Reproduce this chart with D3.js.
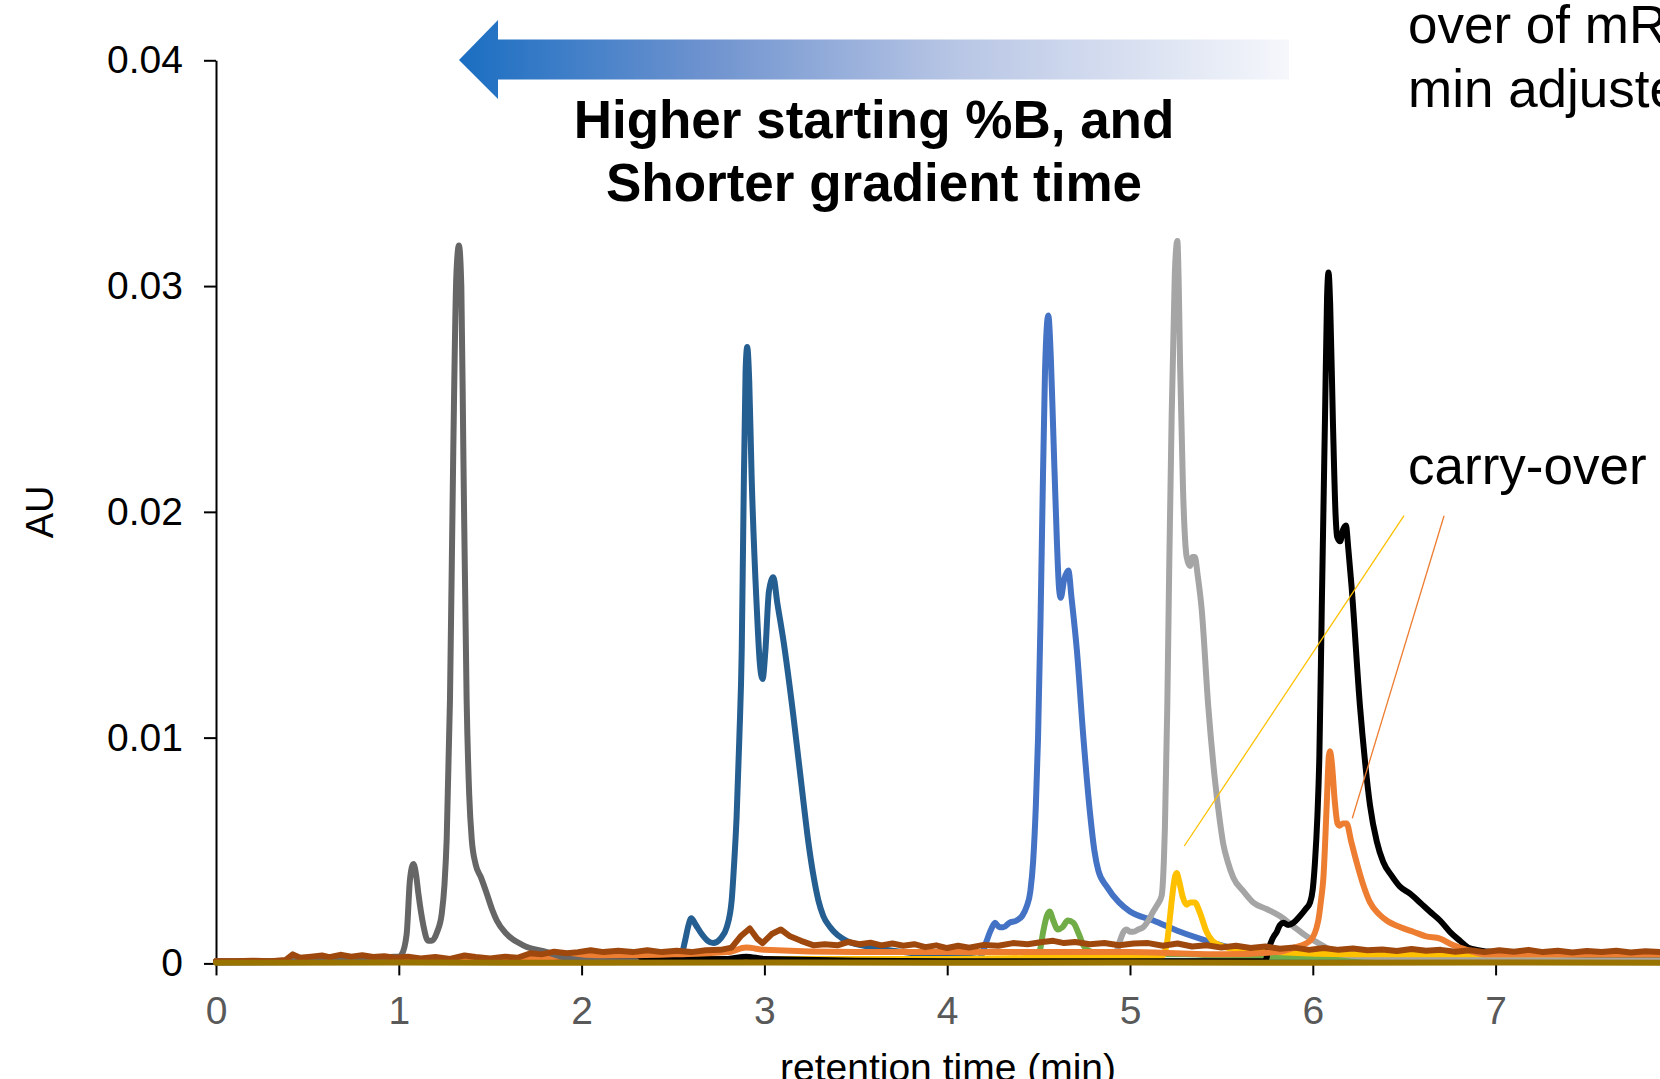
<!DOCTYPE html>
<html>
<head>
<meta charset="utf-8">
<script src="https://cdn.jsdelivr.net/npm/d3@7"></script>
<style>
  html, body { margin: 0; padding: 0; background: #fff; }
  svg { display: block; font-family: "Liberation Sans", Arial, sans-serif; }
</style>
</head>
<body>
<svg id="chart" width="1660" height="1079"></svg>
<script>
// ---- data: [retention time (min), absorbance (AU)] ----
const xTicks = [0, 1, 2, 3, 4, 5, 6, 7];
const yTicks = [0, 0.01, 0.02, 0.03, 0.04];

const darkGrayTrace = [[0,0.0001],[0.5,0.0001],[0.9,0.0002],[0.97,0.0003],[1.0,0.0003],[1.016,0.0004],[1.043,0.0013],[1.061,0.0037],[1.08,0.0044],[1.095,0.0039],[1.107,0.0031],[1.134,0.0017],[1.16,0.0010],[1.18,0.0010],[1.21,0.0014],[1.235,0.0022],[1.25,0.0035],[1.262,0.0055],[1.28,0.0117],[1.298,0.0227],[1.315,0.0305],[1.329,0.0318],[1.342,0.0300],[1.353,0.0227],[1.371,0.0117],[1.385,0.0075],[1.399,0.0055],[1.42,0.0044],[1.45,0.0038],[1.481,0.0031],[1.51,0.0024],[1.536,0.0019],[1.59,0.0013],[1.681,0.0008],[1.81,0.0005],[1.937,0.0002],[2.1,0.0001],[2.3,0.0001]];

const darkBlueTrace = [[0,0.0001],[1,0.0001],[2,0.0001],[2.5,0.0001],[2.538,0.0002],[2.566,0.0010],[2.585,0.0017],[2.60,0.0020],[2.625,0.0017],[2.657,0.0013],[2.69,0.0010],[2.72,0.0009],[2.76,0.0011],[2.794,0.0016],[2.821,0.0028],[2.835,0.0045],[2.848,0.0065],[2.863,0.0100],[2.876,0.0139],[2.885,0.0197],[2.897,0.0262],[2.906,0.0273],[2.917,0.0258],[2.93,0.0216],[2.958,0.0158],[2.975,0.0133],[2.99,0.0126],[3.005,0.0138],[3.025,0.0165],[3.049,0.0171],[3.07,0.0160],[3.104,0.0143],[3.158,0.0110],[3.213,0.0072],[3.24,0.0054],[3.268,0.0039],[3.295,0.0028],[3.322,0.0021],[3.36,0.0016],[3.45,0.0010],[3.6,0.0007],[3.81,0.00046],[4.09,0.00028],[4.3,0.0001],[5,0.0001],[6,0.0001],[7,0.0001],[8,0.0001]];

const blueTrace = [[0,0.00005],[2,0.0001],[4,0.0001],[4.17,0.0001],[4.19,0.0004],[4.216,0.0010],[4.24,0.0015],[4.262,0.0018],[4.285,0.0016],[4.307,0.0016],[4.34,0.0018],[4.38,0.0019],[4.41,0.0021],[4.434,0.0025],[4.455,0.0032],[4.47,0.0045],[4.485,0.0070],[4.497,0.0100],[4.51,0.0150],[4.52,0.0197],[4.535,0.0262],[4.553,0.0287],[4.567,0.0268],[4.58,0.0236],[4.6,0.0187],[4.612,0.0166],[4.621,0.0162],[4.64,0.0170],[4.663,0.0174],[4.68,0.0162],[4.709,0.0139],[4.745,0.0100],[4.782,0.0066],[4.805,0.0050],[4.827,0.0041],[4.873,0.0034],[4.94,0.0027],[5.0,0.0023],[5.128,0.0019],[5.274,0.0014],[5.42,0.0010],[5.547,0.0007],[5.69,0.00045],[6.0,0.0003],[6.5,0.0003],[7,0.0002],[8,0.0002]];

const greenTrace = [[0,0.0001],[2,0.0001],[3,0.0001],[4,0.0002],[4.4,0.0002],[4.49,0.0003],[4.508,0.0006],[4.525,0.0014],[4.545,0.0021],[4.56,0.0023],[4.58,0.0019],[4.605,0.0015],[4.63,0.0016],[4.66,0.0019],[4.69,0.0018],[4.72,0.0013],[4.745,0.0008],[4.766,0.0006],[4.8,0.0005],[5.0,0.0004],[5.3,0.0004],[5.6,0.0003],[6,0.0003],[6.5,0.0003],[7,0.0003],[7.5,0.0003],[8,0.0003]];

const lightGrayTrace = [[0,0.0001],[4,0.0001],[4.9,0.0001],[4.923,0.0004],[4.945,0.0010],[4.965,0.0014],[4.981,0.0015],[5.0,0.0014],[5.018,0.0014],[5.045,0.0015],[5.072,0.0016],[5.1,0.0019],[5.127,0.0023],[5.15,0.0026],[5.173,0.0030],[5.185,0.0045],[5.191,0.0060],[5.204,0.0114],[5.215,0.0178],[5.228,0.0243],[5.245,0.0305],[5.259,0.0320],[5.266,0.0303],[5.274,0.0265],[5.29,0.0210],[5.31,0.0180],[5.328,0.0176],[5.342,0.0180],[5.355,0.0180],[5.37,0.0172],[5.392,0.0157],[5.428,0.0114],[5.465,0.0081],[5.49,0.0064],[5.51,0.0053],[5.535,0.0045],[5.565,0.0038],[5.62,0.0032],[5.674,0.0027],[5.75,0.0024],[5.82,0.0021],[5.9,0.0016],[5.966,0.0012],[6.03,0.0009],[6.094,0.0006],[6.15,0.0004],[6.3,0.0003],[7,0.0002],[8,0.0002]];

const yellowTrace = [[0,0.0001],[1,0.0001],[2,0.0002],[3,0.0002],[4,0.0002],[5,0.0003],[5.17,0.0003],[5.19,0.0005],[5.204,0.0010],[5.218,0.0020],[5.23,0.0029],[5.245,0.0038],[5.255,0.0040],[5.27,0.0036],[5.29,0.0029],[5.309,0.0026],[5.33,0.0027],[5.355,0.0027],[5.38,0.0023],[5.419,0.0014],[5.45,0.0010],[5.492,0.0008],[5.6,0.0006],[5.8,0.0005],[6.2,0.0004],[6.8,0.0004],[7.3,0.0004],[8,0.0004]];

const blackTrace = [[0,0.00005],[1,0.0001],[2.8,0.0002],[2.9,0.0003],[3.0,0.0002],[4,0.0001],[5,0.0001],[5.5,0.0001],[5.74,0.0001],[5.757,0.0006],[5.78,0.0011],[5.803,0.0014],[5.82,0.0017],[5.84,0.0018],[5.865,0.0017],[5.894,0.0018],[5.93,0.0021],[5.96,0.0024],[5.985,0.0027],[6.0,0.0033],[6.012,0.0045],[6.025,0.0065],[6.036,0.0092],[6.049,0.0157],[6.067,0.0243],[6.078,0.0295],[6.086,0.0306],[6.095,0.0292],[6.11,0.0240],[6.125,0.0198],[6.133,0.0189],[6.15,0.0187],[6.165,0.0192],[6.181,0.0194],[6.195,0.0183],[6.212,0.0167],[6.258,0.0114],[6.285,0.0090],[6.313,0.0070],[6.35,0.0054],[6.385,0.0045],[6.43,0.0039],[6.477,0.0034],[6.53,0.0031],[6.586,0.0027],[6.64,0.0023],[6.696,0.0019],[6.75,0.0014],[6.805,0.0010],[6.85,0.0007],[6.897,0.0006],[7.0,0.0005],[7.5,0.0004],[8,0.0004]];

const orangeTrace = [[0,0.0001],[1,0.0001],[1.9,0.0003],[2.5,0.0004],[2.8,0.0005],[2.9,0.0007],[3.0,0.0006],[3.5,0.0005],[4,0.0005],[4.5,0.0005],[5,0.0005],[5.5,0.0004],[5.8,0.0005],[5.9,0.0007],[5.985,0.0010],[6.03,0.0019],[6.045,0.0028],[6.058,0.0038],[6.076,0.0070],[6.088,0.0092],[6.094,0.0094],[6.105,0.0088],[6.12,0.0072],[6.135,0.0062],[6.145,0.0061],[6.165,0.0062],[6.185,0.0062],[6.21,0.0054],[6.239,0.0045],[6.275,0.0035],[6.313,0.0027],[6.36,0.0022],[6.404,0.0019],[6.48,0.0016],[6.55,0.0014],[6.62,0.0012],[6.696,0.0011],[6.77,0.0008],[6.842,0.0006],[6.95,0.0004],[7.5,0.0004],[8,0.0004]];

const brownTrace = [[0,0.0001],[0.1,0.0001],[0.2,0.00012],[0.3,0.0001],[0.38,0.00015],[0.42,0.0004],[0.46,0.00025],[0.52,0.0003],[0.58,0.00035],[0.62,0.00028],[0.68,0.00038],[0.74,0.0003],[0.8,0.00036],[0.86,0.00028],[0.92,0.00032],[0.98,0.00025],[1.05,0.0003],[1.12,0.00022],[1.2,0.00028],[1.28,0.0002],[1.36,0.00035],[1.42,0.00028],[1.5,0.00022],[1.58,0.0003],[1.65,0.00025],[1.72,0.00045],[1.78,0.0004],[1.85,0.00052],[1.92,0.00045],[1.98,0.0005],[2.05,0.00058],[2.12,0.0005],[2.2,0.00056],[2.28,0.0005],[2.36,0.00058],[2.44,0.0005],[2.52,0.00056],[2.6,0.0005],[2.68,0.00058],[2.76,0.0006],[2.82,0.0007],[2.87,0.0012],[2.92,0.00155],[2.96,0.0011],[2.99,0.0009],[3.04,0.0013],[3.09,0.0015],[3.14,0.0012],[3.2,0.001],[3.27,0.0008],[3.33,0.00085],[3.4,0.0008],[3.46,0.00095],[3.52,0.00085],[3.58,0.00092],[3.64,0.0008],[3.7,0.00088],[3.76,0.00078],[3.82,0.00085],[3.88,0.00072],[3.94,0.0008],[4.0,0.00068],[4.06,0.00078],[4.12,0.0007],[4.2,0.00082],[4.28,0.00078],[4.36,0.0009],[4.44,0.00085],[4.52,0.00095],[4.58,0.001],[4.64,0.0009],[4.7,0.00095],[4.78,0.00085],[4.86,0.0009],[4.94,0.0008],[5.02,0.00088],[5.1,0.0009],[5.18,0.00078],[5.26,0.00088],[5.34,0.00075],[5.42,0.0008],[5.5,0.0007],[5.58,0.00078],[5.66,0.00068],[5.74,0.00075],[5.82,0.00065],[5.9,0.0007],[5.98,0.0006],[6.06,0.00068],[6.14,0.0006],[6.22,0.00066],[6.3,0.00058],[6.38,0.00062],[6.46,0.00055],[6.54,0.00064],[6.62,0.00056],[6.7,0.0006],[6.78,0.00052],[6.86,0.00058],[6.94,0.0005],[7.02,0.00058],[7.1,0.00052],[7.18,0.0006],[7.26,0.0005],[7.34,0.00056],[7.42,0.00048],[7.5,0.00055],[7.58,0.0005],[7.66,0.00056],[7.74,0.00048],[7.82,0.00054],[7.9,0.0005],[8,0.00052]];

const oliveTrace = [[0,0.00003],[1,0.00004],[2,0.00003],[3,0.00004],[4,0.00003],[5,0.00004],[6,0.00003],[7,0.00004],[8,0.00003]];

// carry-over leader lines, from label to peak (data coordinates)
const yellowLeader = [[6.499, 0.01983], [5.297, 0.0052]];
const orangeLeader = [[6.718, 0.01983], [6.216, 0.00643]];

// ---- layout ----
const svg = d3.select("#chart");
const x = d3.scaleLinear().domain([0, 8]).range([216, 1678.4]);
const y = d3.scaleLinear().domain([0, 0.04]).range([963.4, 60.3]);
const fontSize = 39;

// axes
const yAxis = d3.axisLeft(y)
  .tickValues(yTicks)
  .tickFormat(d => d === 0 ? "0" : d3.format(".2f")(d))
  .tickSizeInner(12)
  .tickSizeOuter(0)
  .tickPadding(21);
const xAxis = d3.axisBottom(x)
  .tickValues(xTicks)
  .tickFormat(d3.format("d"))
  .tickSizeInner(12)
  .tickSizeOuter(0)
  .tickPadding(21);

const gy = svg.append("g").attr("transform", `translate(${x(0)},0)`).call(yAxis);
const gx = svg.append("g").attr("transform", `translate(0,${y(0)})`).call(xAxis);
[gx, gy].forEach(g => {
  g.selectAll("path.domain").attr("stroke", "#000").attr("stroke-width", 2);
  g.selectAll(".tick line").attr("stroke", "#000").attr("stroke-width", 2);
  g.selectAll(".tick text").attr("font-size", fontSize).attr("font-family", "Liberation Sans, Arial, sans-serif");
});
gy.selectAll(".tick text").attr("fill", "#000");
gx.selectAll(".tick text").attr("fill", "#595959");

// axis titles
svg.append("text")
  .attr("transform", `translate(53,${(y(0) + y(0.04)) / 2}) rotate(-90)`)
  .attr("text-anchor", "middle")
  .attr("font-size", 38)
  .text("AU");
svg.append("text")
  .attr("x", 948).attr("y", 1081)
  .attr("text-anchor", "middle")
  .attr("font-size", 39)
  .text("retention time (min)");

// traces
const smooth = d3.line().x(d => x(d[0])).y(d => y(d[1])).curve(d3.curveMonotoneX);
const jagged = d3.line().x(d => x(d[0])).y(d => y(d[1]));

const traces = [
  { data: darkBlueTrace, color: "#255e91", gen: smooth },
  { data: blueTrace, color: "#4472c4", gen: smooth },
  { data: greenTrace, color: "#70ad47", gen: smooth },
  { data: lightGrayTrace, color: "#a5a5a5", gen: smooth },
  { data: yellowTrace, color: "#ffc000", gen: smooth },
  { data: blackTrace, color: "#000000", gen: smooth },
  { data: orangeTrace, color: "#ed7d31", gen: smooth },
  { data: darkGrayTrace, color: "#666666", gen: smooth },
  { data: brownTrace, color: "#9e480e", gen: jagged },
  { data: oliveTrace, color: "#997300", gen: jagged }
];

svg.append("g").selectAll("path")
  .data(traces)
  .join("path")
  .attr("d", t => t.gen(t.data))
  .attr("fill", "none")
  .attr("stroke", t => t.color)
  .attr("stroke-width", 6)
  .attr("stroke-linejoin", "round")
  .attr("stroke-linecap", "round");

// leader lines for carry-over
const leader = d3.line().x(d => x(d[0])).y(d => y(d[1]));
svg.append("path").attr("d", leader(yellowLeader)).attr("stroke", "#ffc000").attr("stroke-width", 1.3).attr("fill", "none");
svg.append("path").attr("d", leader(orangeLeader)).attr("stroke", "#ed7d31").attr("stroke-width", 1.3).attr("fill", "none");

// gradient arrow
const defs = svg.append("defs");
const grad = defs.append("linearGradient").attr("id", "arrowGrad")
  .attr("gradientUnits", "userSpaceOnUse")
  .attr("x1", 459).attr("x2", 1289).attr("y1", 0).attr("y2", 0);
grad.append("stop").attr("offset", 0).attr("stop-color", "#1a6ec2");
grad.append("stop").attr("offset", 0.3).attr("stop-color", "#6f93cf");
grad.append("stop").attr("offset", 0.6).attr("stop-color", "#b8c6e5");
grad.append("stop").attr("offset", 1).attr("stop-color", "#f5f7fb");

svg.append("path")
  .attr("d", "M459,60 L498,20 L498,39.5 L1289,39.5 L1289,79.5 L498,79.5 L498,99 Z")
  .attr("fill", "url(#arrowGrad)");

// title text
const title = svg.append("text")
  .attr("text-anchor", "middle")
  .attr("font-size", 53)
  .attr("font-weight", "bold");
title.append("tspan").attr("x", 874).attr("y", 138).text("Higher starting %B, and");
title.append("tspan").attr("x", 874).attr("y", 201).text("Shorter gradient time");

// right annotations (cropped by the picture edge)
svg.append("text").attr("x", 1408).attr("y", 43).attr("font-size", 53).text("over of mRNA");
svg.append("text").attr("x", 1408).attr("y", 107).attr("font-size", 53).text("min adjusted");
svg.append("text").attr("x", 1408).attr("y", 484).attr("font-size", 53).text("carry-over");
</script>
</body>
</html>
